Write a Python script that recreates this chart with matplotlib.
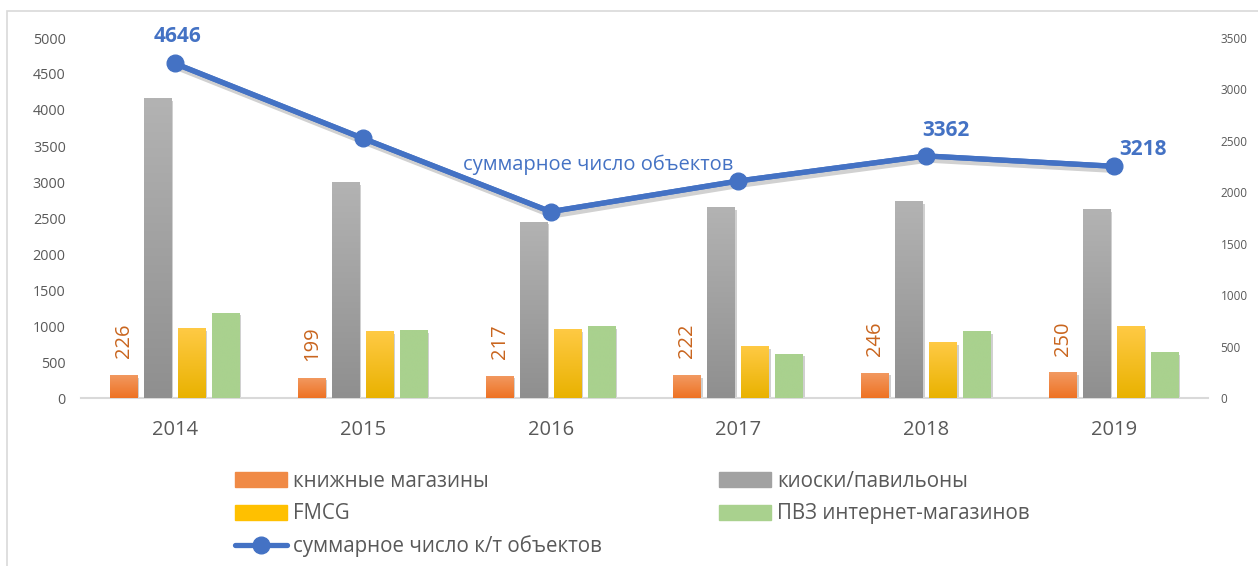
import numpy as np
import matplotlib
matplotlib.use('Agg')
import matplotlib.pyplot as plt
from matplotlib import patheffects as pe
from matplotlib.patches import Rectangle
from matplotlib.lines import Line2D
from matplotlib.colors import LinearSegmentedColormap

plt.rcParams['font.family'] = ['Open Sans', 'DejaVu Sans']

# ---- data ----
years = ['2014', '2015', '2016', '2017', '2018', '2019']
books = [226, 199, 217, 222, 246, 250]
kiosks = [2914, 2097, 1714, 1854, 1912, 1834]
fmcg = [677, 651, 671, 506, 544, 700]
pvz = [830, 661, 697, 431, 654, 444]
total = [4646, 3607, 2588, 3014, 3362, 3218]
total_labels = ['4646', '', '', '', '3362', '3218']

series_names = ['книжные магазины', 'киоски/павильоны', 'FMCG', 'ПВЗ интернет-магазинов']
line_name = 'суммарное число к/т объектов'
line_note = 'суммарное число объектов'

# ---- styles ----
W, H = 1258, 566
grad_colors = [('#EE7223', '#F29A62'), ('#8F8F8F', '#B3B3B3'),
               ('#E9B200', '#FFCA45'), ('#A9D18E', '#A9D18E')]
flat_colors = ['#F08A46', '#A2A2A2', '#FFC000', '#A9D18E']
blue = '#4472C4'
txt = '#595959'

fig = plt.figure(figsize=(W / 100, H / 100), dpi=100)
ax = fig.add_axes([81 / W, 1 - 398 / H, (1208 - 81) / W, 360 / H])
ax2 = ax.twinx()

x = np.arange(len(years))
step = 34 / 188
bw = 28 / 188
offs = [-1.5, -0.5, 0.5, 1.5]
grad = np.linspace(0, 1, 256).reshape(-1, 1)

shadow = [pe.SimplePatchShadow(offset=(1, -2), shadow_rgbFace='#444444', alpha=0.25), pe.Normal()]
for si, vals in enumerate([books, kiosks, fmcg, pvz]):
    cmap = LinearSegmentedColormap.from_list('g%d' % si, list(grad_colors[si]))
    bars = ax.bar(x + offs[si] * step, vals, width=bw, color=flat_colors[si],
                  zorder=2, path_effects=shadow)
    for b in bars:
        x0, w, h = b.get_x(), b.get_width(), b.get_height()
        im = ax.imshow(grad, extent=[x0, x0 + w, 0, h], origin='lower', aspect='auto',
                       cmap=cmap, zorder=3, interpolation='bilinear')
        im.set_clip_path(b)

# book labels
for xi, v in zip(x, books):
    ax.annotate(str(v), (xi + offs[0] * step, v), xytext=(0, 12), textcoords='offset points',
                rotation=90, ha='center', va='bottom', fontsize=14.5, color='#C9651E')

ax.set_xlim(-0.5, len(years) - 0.5)
ax.set_ylim(0, 3500)
ax.set_yticks(np.arange(0, 3501, 500))
ax.yaxis.tick_right()
ax.tick_params(axis='y', length=0, labelsize=8.5, labelcolor=txt, pad=9)
ax.set_xticks(x, years)
ax.tick_params(axis='x', length=0, labelsize=14.5, labelcolor=txt, pad=16)
for s in ['top', 'left', 'right']:
    ax.spines[s].set_visible(False)
ax.spines['bottom'].set_color('#D9D9D9')
ax.spines['bottom'].set_linewidth(1.5)
for lbl in ax.get_yticklabels():
    lbl.set_horizontalalignment('left')

# line (soft shadow underneath, then line with markers)
ax2.plot(x, total, color=blue, lw=3.8, zorder=4, solid_capstyle='round',
         path_effects=[pe.SimpleLineShadow(offset=(1.5, -3), shadow_color='#000000', alpha=0.18),
                       pe.Normal()])
ax2.plot(x, total, color=blue, lw=3.8, marker='o', ms=12, zorder=5, solid_capstyle='round')
label_offsets = [(2, 19.5), (0, 18), (0, 18), (0, 18), (14, 18), (21, 12)]
for xi, v, lab, off in zip(x, total, total_labels, label_offsets):
    if lab:
        ax2.annotate(lab, (xi, v), xytext=off, textcoords='offset points', ha='center',
                     va='center', fontsize=15, fontweight='bold', color=blue)
ax2.text(2.255, 3245, line_note, ha='center', va='center', fontsize=14.5, color=blue)
ax2.set_ylim(0, 5000)
ax2.set_yticks(np.arange(0, 5001, 500))
ax2.yaxis.tick_left()
ax2.tick_params(axis='y', length=0, labelsize=10.4, labelcolor=txt, pad=11)
for s in ax2.spines.values():
    s.set_visible(False)

# chart border
fig.add_artist(Rectangle((7 / W, -0.05), 1.0, 1.05 - 11 / H, transform=fig.transFigure,
                         fill=False, ec='#D9D9D9', lw=1.2))

# legend
h_bars = [Rectangle((0, 0), 1, 1, color=c) for c in flat_colors]
h_line = Line2D([], [], color=blue, lw=3.8, marker='o', ms=12, solid_capstyle='round')
handles = [h_bars[0], h_bars[2], h_line, h_bars[1], h_bars[3]]
labels = [series_names[0], series_names[2], line_name, series_names[1], series_names[3]]
fig.legend(handles, labels, loc='upper left', bbox_to_anchor=(235 / W, 1 - 471 / H),
           ncol=2, frameon=False, fontsize=14.8, labelcolor=txt, borderpad=0,
           handlelength=2.54, handleheight=0.73, handletextpad=0.3, labelspacing=0.55,
           columnspacing=5.66, borderaxespad=0)

fig.savefig('out.png', dpi=100)
